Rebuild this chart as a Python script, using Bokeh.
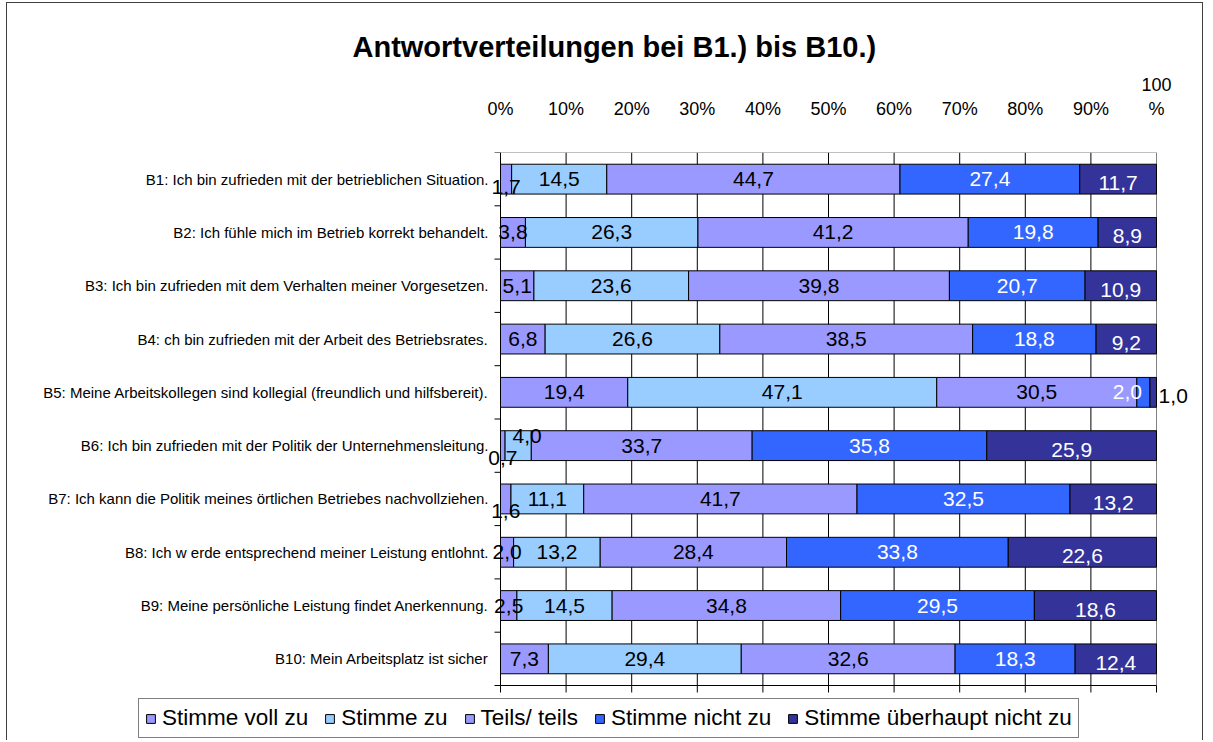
import math
from bokeh.plotting import figure
from bokeh.models import (Range1d, FixedTicker, LinearAxis, ColumnDataSource,
                          Legend, LegendItem, Title)
from bokeh.core.properties import value
from bokeh.embed import file_html
from bokeh.resources import INLINE

categories = [
    "B1: Ich bin zufrieden mit der betrieblichen Situation.",
    "B2: Ich fühle mich im Betrieb korrekt behandelt.",
    "B3: Ich bin zufrieden mit dem Verhalten meiner Vorgesetzen.",
    "B4: ch bin zufrieden mit der Arbeit des Betriebsrates.",
    "B5: Meine Arbeitskollegen sind kollegial (freundlich und hilfsbereit).",
    "B6: Ich bin zufrieden mit der Politik der Unternehmensleitung.",
    "B7: Ich kann die Politik meines örtlichen Betriebes nachvollziehen.",
    "B8: Ich w erde entsprechend meiner Leistung entlohnt.",
    "B9: Meine persönliche Leistung findet Anerkennung.",
    "B10: Mein Arbeitsplatz ist sicher",
]
series_names = ["Stimme voll zu", "Stimme zu", "Teils/ teils", "Stimme nicht zu",
                "Stimme überhaupt nicht zu"]
stimme_voll_zu = [1.7, 3.8, 5.1, 6.8, 19.4, 0.7, 1.6, 2.0, 2.5, 7.3]
stimme_zu = [14.5, 26.3, 23.6, 26.6, 47.1, 4.0, 11.1, 13.2, 14.5, 29.4]
teils_teils = [44.7, 41.2, 39.8, 38.5, 30.5, 33.7, 41.7, 28.4, 34.8, 32.6]
stimme_nicht_zu = [27.4, 19.8, 20.7, 18.8, 2.0, 35.8, 32.5, 33.8, 29.5, 18.3]
stimme_ueberhaupt_nicht_zu = [11.7, 8.9, 10.9, 9.2, 1.0, 25.9, 13.2, 22.6, 18.6, 12.4]
x_ticks = [0, 10, 20, 30, 40, 50, 60, 70, 80, 90, 100]
x_tick_labels = ["0%", "10%", "20%", "30%", "40%", "50%", "60%", "70%", "80%", "90%", "100\n%"]

series = [stimme_voll_zu, stimme_zu, teils_teils, stimme_nicht_zu, stimme_ueberhaupt_nicht_zu]
colors = ["#9999FF", "#99CCFF", "#9999FF", "#3366FF", "#333399"]
label_colors = ["black", "black", "black", "white", "white"]
# label nudges in pixels (dx right, dy down) mimicking the original label placement
nudge = {(0, 0): (0, 8), (5, 0): (0, 12), (5, 1): (9, -10), (6, 0): (0, 12),
         (4, 3): (-16, 0), (4, 4): (20, 0)}
color_override = {(4, 4): "black"}

FONT = "Liberation Sans"
n = len(categories)
ycenters = [i + 0.5 for i in range(n)]

# ---- layout in page pixels ----
OX, OY = 7, 3             # canvas origin on the page (inside the 1px border)
PX = 656 / 100            # px per percent
ROW = 533 / n             # px per category row
frame_l, frame_r, frame_t, frame_b = 30, 1190, 152, 740
W, H = 1197, 738
mbl = frame_l - OX
mbr = W - mbl - (frame_r - frame_l)
mbt = frame_t - OY
mbb = H - mbt - (frame_b - frame_t)

p = figure(width=W, height=H, output_backend="svg", toolbar_location=None,
           x_range=Range1d(-(500 - frame_l) / PX, 100 + (frame_r - 1156) / PX),
           y_range=Range1d((frame_b - frame_t) / ROW, 0),
           x_axis_location=None, y_axis_location=None,
           min_border_left=mbl, min_border_right=mbr, min_border_top=mbt,
           min_border_bottom=max(mbb, 0),
           styles={"border": "1px solid #404040", "border-bottom": "none",
                   "margin-left": f"{OX - 1}px", "margin-top": f"{OY - 1}px"})
p.outline_line_color = None
p.background_fill_color = "white"
p.xgrid.grid_line_color = None
p.ygrid.grid_line_color = None

# vertical grid lines 0..90 black, right edge grey, top edge grey, bottom axis black
grid_x = x_ticks[:-1]
p.segment(x0=grid_x, y0=[0] * len(grid_x), x1=grid_x, y1=[n] * len(grid_x),
          line_color="black", line_width=1)
p.segment(x0=[0, 100], y0=[0, 0], x1=[100, 100], y1=[0, n], line_color="#808080", line_width=1)
p.segment(x0=[0], y0=[n], x1=[100], y1=[n], line_color="black", line_width=1)
# category boundary ticks on the left, percent ticks at the bottom
p.ray(x=[0] * (n + 1), y=list(range(n + 1)), length=6, length_units="screen",
      angle=math.pi, line_color="black", line_width=1)
p.ray(x=x_ticks, y=[n] * len(x_ticks), length=7, length_units="screen",
      angle=-math.pi / 2, line_color="black", line_width=1)

# normalise to 100 % stacked
totals = [sum(s[i] for s in series) for i in range(n)]
lefts = [0.0] * n
renderers = []
lx, ly, lt, lc, lxo, lyo = [], [], [], [], [], []
for k, s in enumerate(series):
    left = list(lefts)
    right = [left[i] + s[i] / totals[i] * 100 for i in range(n)]
    src = ColumnDataSource(dict(y=ycenters, left=left, right=right))
    r = p.hbar(y="y", left="left", right="right", height=0.56, source=src,
               fill_color=colors[k], line_color="black", line_width=1)
    renderers.append(r)
    for i in range(n):
        dx, dy = nudge.get((i, k), (0, 0))
        if k == 4:
            dy += 4
        lx.append((left[i] + right[i]) / 2)
        ly.append(ycenters[i])
        lt.append(f"{s[i]:.1f}".replace(".", ","))
        lc.append(color_override.get((i, k), label_colors[k]))
        lxo.append(dx)
        lyo.append(dy)
    lefts = right

lsrc = ColumnDataSource(dict(x=lx, y=ly, text=lt, color=lc, xo=lxo, yo=lyo))
p.text(x="x", y="y", text="text", source=lsrc, text_color="color",
       x_offset="xo", y_offset="yo", text_align="center", text_baseline="middle",
       text_font=value(FONT), text_font_size="21px")

# category labels
csrc = ColumnDataSource(dict(x=[0] * n, y=ycenters, text=categories))
p.text(x="x", y="y", text="text", source=csrc, x_offset=-12, text_align="right",
       text_baseline="middle", text_font=value(FONT), text_font_size="15px",
       text_color="black")

# top axis with labels
top = LinearAxis(ticker=FixedTicker(ticks=x_ticks))
top.major_label_overrides = {t: l for t, l in zip(x_ticks, x_tick_labels)}
top.major_tick_out = 0
top.major_tick_in = 0
top.minor_tick_out = 0
top.minor_tick_in = 0
top.axis_line_color = None
top.major_label_standoff = 34
top.major_label_text_font = FONT
top.major_label_text_font_size = "18px"
top.major_label_text_color = "black"
p.add_layout(top, "above")

# title
p.add_layout(Title(text="Antwortverteilungen bei B1.) bis B10.)", align="left",
                   offset=352 - frame_l, text_font=FONT, text_font_size="29px",
                   text_font_style="bold", text_color="black", standoff=17), "above")

# legend
items = [LegendItem(label=series_names[k], renderers=[renderers[k]]) for k in range(5)]
legend = Legend(items=items, orientation="horizontal", location=(138 - frame_l, 2),
                label_text_font=FONT, label_text_font_size="22.5px", label_height=22,
                label_text_color="black",
                glyph_width=11, glyph_height=11, spacing=16, label_standoff=6,
                padding=6, margin=0, border_line_color="black", border_line_width=1,
                background_fill_color="white", background_fill_alpha=1)
p.add_layout(legend, "center")

open("out.html", "w").write(file_html(p, INLINE))
